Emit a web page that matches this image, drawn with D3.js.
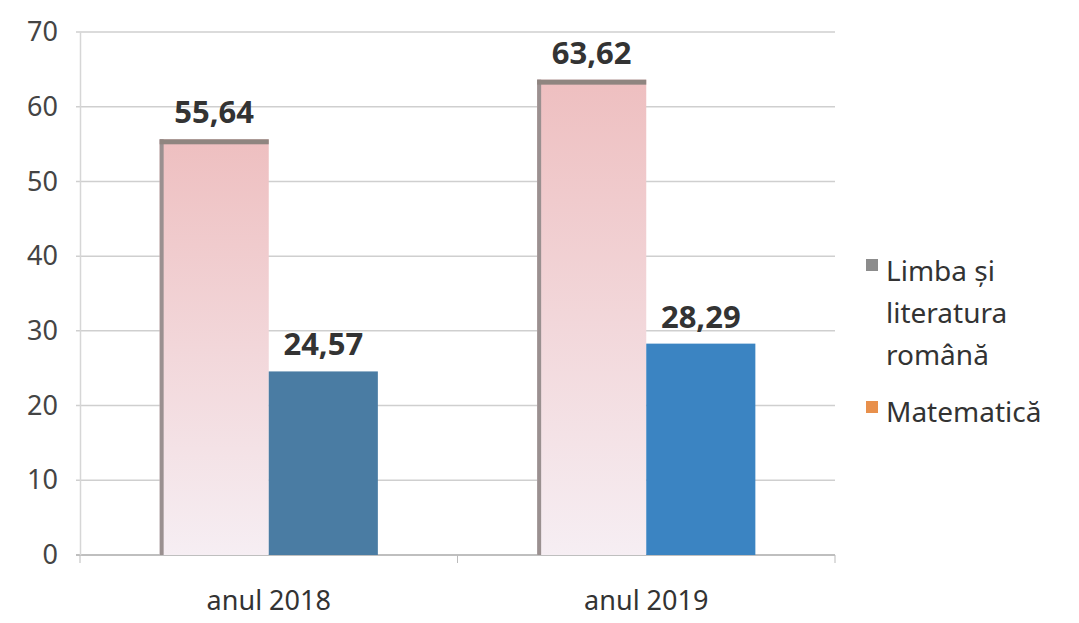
<!DOCTYPE html>
<html>
<head>
<meta charset="utf-8">
<script src="https://cdn.jsdelivr.net/npm/d3@7"></script>
<style>
  body { margin: 0; background: #fff; }
  text { font-family: "Noto Sans", "DejaVu Sans", sans-serif; }
</style>
</head>
<body>
<div id="chart"></div>
<script>
// Data
const categories = ["anul 2018", "anul 2019"];
const seriesNames = ["Limba și literatura română", "Matematică"];
const romana = [55.64, 63.62];
const matematica = [24.57, 28.29];
const barColors = [null, ["#4a7ca3", "#3b84c2"]];
const yTicks = [0, 10, 20, 30, 40, 50, 60, 70];

const W = 1079, H = 623;
const margin = { top: 32, right: 244, bottom: 68, left: 80 };
const width = W - margin.left - margin.right;
const height = H - margin.top - margin.bottom;

const svg = d3.select("#chart").append("svg")
    .attr("width", W)
    .attr("height", H);

// pink gradient for first series
const defs = svg.append("defs");
const grad = defs.append("linearGradient")
    .attr("id", "pinkGrad")
    .attr("x1", 0).attr("y1", 0).attr("x2", 0).attr("y2", 1);
grad.append("stop").attr("offset", "0%").attr("stop-color", "#eebfc0");
grad.append("stop").attr("offset", "100%").attr("stop-color", "#f6eef3");

const g = svg.append("g")
    .attr("transform", `translate(${margin.left},${margin.top})`);

const x0 = d3.scaleBand()
    .domain(categories)
    .range([0, width])
    .paddingInner(0)
    .paddingOuter(0);

const x1 = d3.scaleBand()
    .domain(seriesNames)
    .range([0, x0.bandwidth()])
    .paddingInner(0)
    .paddingOuter(0.73);

const y = d3.scaleLinear()
    .domain([0, 70])
    .range([height, 0]);

// gridlines
g.append("g")
    .selectAll("line")
    .data(yTicks)
    .enter()
    .append("line")
    .attr("x1", -4)
    .attr("x2", width)
    .attr("y1", d => y(d))
    .attr("y2", d => y(d))
    .attr("stroke", d => d === 0 ? "#aaa" : "#cfcfcf")
    .attr("stroke-width", 1.5);

// y axis
const yAxis = g.append("g")
    .call(d3.axisLeft(y).tickValues(yTicks).tickSize(0).tickPadding(22));
yAxis.select(".domain").attr("stroke", "#d6d6d6").attr("stroke-width", 1.5);
yAxis.selectAll("text")
    .style("font-size", "27px")
    .attr("fill", "#444");

// x axis
const xAxis = g.append("g")
    .attr("transform", `translate(0,${height})`)
    .call(d3.axisBottom(x0).tickSize(0).tickPadding(36));
xAxis.select(".domain").remove();
xAxis.selectAll("text")
    .style("font-size", "27px")
    .attr("fill", "#333");
g.append("g")
    .selectAll("line")
    .data([0, width / 2, width])
    .enter()
    .append("line")
    .attr("x1", d => d).attr("x2", d => d)
    .attr("y1", height).attr("y2", height + 8)
    .attr("stroke", "#bbb");

// bars
const groups = g.selectAll(".cat")
    .data(categories)
    .enter()
    .append("g")
    .attr("class", "cat")
    .attr("transform", d => `translate(${x0(d)},0)`);

groups.each(function(cat, i) {
    const grp = d3.select(this);
    const vals = [romana[i], matematica[i]];
    seriesNames.forEach((s, j) => {
        const v = vals[j];
        const bx = x1(s), bw = x1.bandwidth();
        if (j === 0) {
            grp.append("rect")
                .attr("x", bx).attr("y", y(v))
                .attr("width", bw).attr("height", height - y(v))
                .attr("fill", "url(#pinkGrad)");
            // left shadow edge and top border
            grp.append("rect")
                .attr("x", bx).attr("y", y(v))
                .attr("width", 4).attr("height", height - y(v))
                .attr("fill", "#9a9090");
            grp.append("rect")
                .attr("x", bx).attr("y", y(v))
                .attr("width", bw).attr("height", 5)
                .attr("fill", "#8f8580");
        } else {
            grp.append("rect")
                .attr("x", bx).attr("y", y(v))
                .attr("width", bw).attr("height", height - y(v))
                .attr("fill", barColors[1][i]);
        }
        grp.append("text")
            .attr("x", bx + bw / 2)
            .attr("y", y(v) - 16)
            .attr("text-anchor", "middle")
            .style("font-size", "31px")
            .style("font-weight", "bold")
            .attr("fill", "#333")
            .text(String(v.toFixed(2)).replace(".", ","));
    });
});

// legend
const legend = svg.append("g").attr("transform", "translate(866,0)");
legend.append("rect")
    .attr("x", 0).attr("y", 259).attr("width", 12).attr("height", 12)
    .attr("fill", "#8c8c8c");
const lt = legend.append("text")
    .attr("x", 20)
    .style("font-size", "28px")
    .attr("fill", "#333");
["Limba și", "literatura", "română"].forEach((t, k) => {
    lt.append("tspan").attr("x", 20).attr("y", 281 + k * 42).text(t);
});
legend.append("rect")
    .attr("x", 0).attr("y", 401).attr("width", 12).attr("height", 12)
    .attr("fill", "#e8904c");
legend.append("text")
    .attr("x", 20).attr("y", 422)
    .style("font-size", "28px")
    .attr("fill", "#333")
    .text("Matematică");
</script>
</body>
</html>
